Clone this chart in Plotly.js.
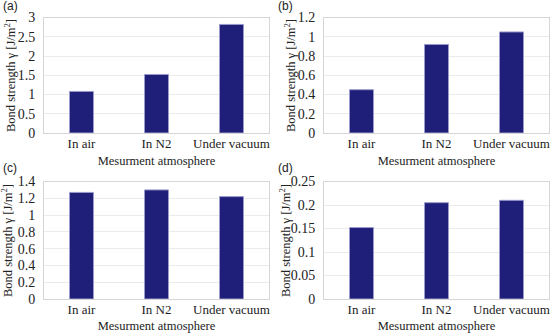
<!DOCTYPE html>
<html>
<head>
<meta charset="utf-8">
<script src="https://cdn.plot.ly/plotly-3.0.1.min.js"></script>
<style>
  html, body { margin: 0; padding: 0; background: #fff; }
  #plot { width: 550px; height: 333px; }
</style>
</head>
<body>
<div id="plot"></div>
<script>
let categories = ['In air', 'In N2', 'Under vacuum'];
let valuesA = [1.08, 1.52, 2.82];
let valuesB = [0.45, 0.92, 1.05];
let valuesC = [1.27, 1.30, 1.22];
let valuesD = [0.152, 0.205, 0.21];
let panelLabels = ['(a)', '(b)', '(c)', '(d)'];

let serif = '"Liberation Serif", serif';
let barColor = '#1f1f7a';

function barTrace(vals, n) {
    return {
        x: categories,
        y: vals,
        type: 'bar',
        width: 0.32,
        marker: { color: barColor, line: { color: '#9a9acb', width: 1 } },
        xaxis: 'x' + (n == 1 ? '' : n),
        yaxis: 'y' + (n == 1 ? '' : n),
        hoverinfo: 'x+y'
    };
}

let data = [
    barTrace(valuesA, 1),
    barTrace(valuesB, 2),
    barTrace(valuesC, 3),
    barTrace(valuesD, 4)
];

function xAxis(dom, anchor) {
    return {
        domain: dom,
        anchor: anchor,
        showline: true,
        mirror: true,
        linecolor: '#d6d6d6',
        linewidth: 1,
        ticks: '',
        ticklabelstandoff: -2,
        tickfont: { family: serif, size: 13, color: '#222' },
        title: { text: 'Mesurment atmosphere', font: { family: serif, size: 12.5, color: '#222' }, standoff: 6 },
        automargin: false,
        fixedrange: true
    };
}

function yAxis(dom, anchor, range, dtick) {
    return {
        domain: dom,
        anchor: anchor,
        range: range,
        dtick: dtick,
        showline: true,
        mirror: true,
        linecolor: '#d6d6d6',
        linewidth: 1,
        gridcolor: '#ebebeb',
        zeroline: false,
        ticks: '',
        ticklabelstandoff: 5,
        tickfont: { family: serif, size: 14, color: '#222' },
        automargin: false,
        fixedrange: true
    };
}

let colL = [44 / 550, 269 / 550];
let colR = [324 / 550, 549 / 550];
let rowT = [1 - 133 / 333, 1 - 17.5 / 333];
let rowB = [1 - 299 / 333, 1 - 181.5 / 333];

let yTitle = 'Bond strength \u03b3 [J/m<sup>2</sup>]';
let annotations = [];
let titleX = [10, 290, 7, 285];
let titleY = [76, 76, 241, 241];
let labelX = [1, 276, 1, 276];
let labelY = [6, 6, 168, 168];
for (var i = 0; i < 4; i++)
{
    annotations.push({
        text: yTitle, textangle: -90,
        x: titleX[i] / 550, y: 1 - titleY[i] / 333,
        xref: 'paper', yref: 'paper', showarrow: false,
        xanchor: 'center', yanchor: 'middle',
        font: { family: serif, size: 12.5, color: '#222' }
    });
    annotations.push({
        text: panelLabels[i],
        x: labelX[i] / 550, y: 1 - labelY[i] / 333,
        xref: 'paper', yref: 'paper', showarrow: false,
        xanchor: 'left', yanchor: 'middle',
        font: { family: '"Liberation Sans", sans-serif', size: 12, color: '#222' }
    });
}

let layout = {
    width: 550,
    height: 333,
    margin: { l: 0, r: 0, t: 0, b: 0 },
    paper_bgcolor: '#fff',
    plot_bgcolor: '#fff',
    showlegend: false,
    font: { family: serif },
    xaxis: xAxis(colL, 'y'),
    yaxis: yAxis(rowT, 'x', [0, 3], 0.5),
    xaxis2: xAxis(colR, 'y2'),
    yaxis2: yAxis(rowT, 'x2', [0, 1.2], 0.2),
    xaxis3: xAxis(colL, 'y3'),
    yaxis3: yAxis(rowB, 'x3', [0, 1.4], 0.2),
    xaxis4: xAxis(colR, 'y4'),
    yaxis4: yAxis(rowB, 'x4', [0, 0.25], 0.05),
    annotations: annotations
};

Plotly.newPlot('plot', data, layout, { displayModeBar: false, staticPlot: true });
</script>
</body>
</html>
